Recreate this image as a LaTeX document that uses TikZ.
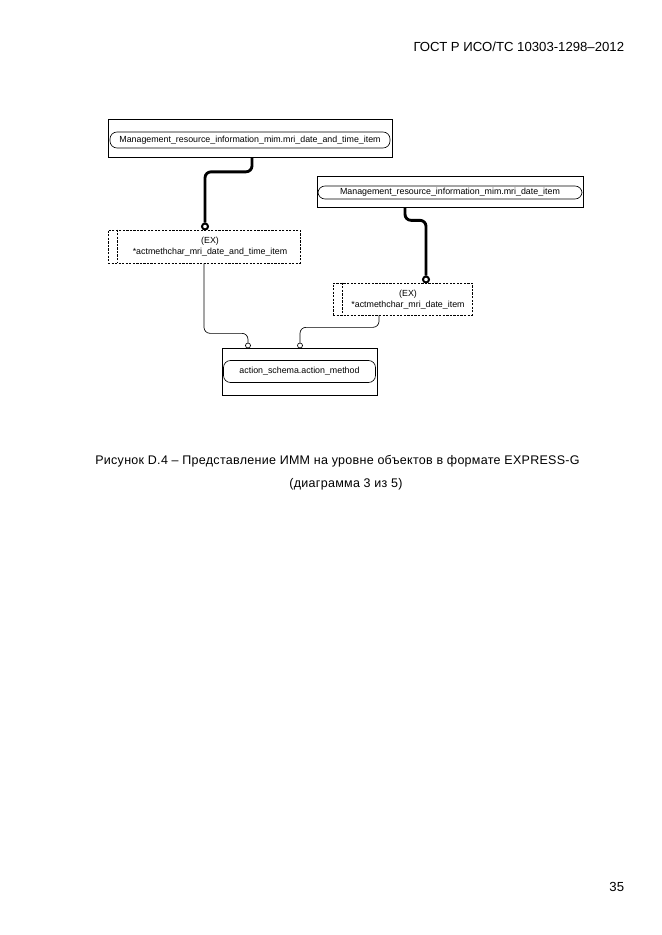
\documentclass[tikz,border=0pt]{standalone}
\usepackage{fontspec}
\setmainfont{Liberation Sans}
\newlength{\pxu}
\setlength{\pxu}{0.3177mm}
\tikzset{
  entbox/.style={draw, line width=0.6pt, inner sep=0pt},
  pill/.style={draw, line width=0.6pt, rounded corners=7\pxu, inner sep=0pt, font=\fontsize{8}{9}\selectfont},
  exbox/.style={draw, dash pattern=on 2pt off 1.2pt, line width=0.6pt, inner sep=0pt},
  extext/.style={align=center, font=\fontsize{8}{10.5}\selectfont, inner sep=0pt},
  bigring/.style={circle, draw, line width=1.8pt, inner sep=0pt, minimum size=6\pxu},
  smallring/.style={circle, draw, line width=0.6pt, inner sep=0pt, minimum size=5\pxu},
  thickconn/.style={line width=2.6pt, rounded corners=6\pxu},
  thinconn/.style={line width=0.6pt, rounded corners=6\pxu},
  captext/.style={font=\fontsize{11.3}{13}\selectfont\addfontfeature{LetterSpace=2.3}},
}
\begin{document}
\begin{tikzpicture}[x=0.3177mm, y=-0.3177mm]
    \useasboundingbox (0,0) rectangle (661,935);

    % 页眉
    \node[anchor=east, font=\fontsize{11.9}{14}\selectfont] (hdr) at (628,47) {ГОСТ Р ИСО/ТС 10303-1298–2012};

    % 实体框
    \node[entbox, minimum width=284\pxu, minimum height=38\pxu] (e1) at (250,138.5) {};
    \node[pill, minimum width=280\pxu, minimum height=16\pxu] (p1) at (250,140) {Management\_resource\_information\_mim.mri\_date\_and\_time\_item};
    \node[entbox, minimum width=266\pxu, minimum height=31\pxu] (e2) at (450,191.5) {};
    \node[pill, minimum width=264\pxu, minimum height=13\pxu] (p2) at (450,192.5) {Management\_resource\_information\_mim.mri\_date\_item};
    \node[entbox, minimum width=155\pxu, minimum height=47\pxu] (e3) at (299.5,371.5) {};
    \node[pill, minimum width=152\pxu, minimum height=22\pxu] (p3) at (299.5,371.5) {action\_schema.action\_method};

    % 选择类型框
    \node[exbox, minimum width=192\pxu, minimum height=33\pxu] (ex1) at (204,246.5) {};
    \draw[exbox] ([xshift=10\pxu]ex1.north west) -- ([xshift=10\pxu]ex1.south west);
    \node[extext] (t1) at (210,246.5) {(EX)\\*actmethchar\_mri\_date\_and\_time\_item};
    \node[exbox, minimum width=139\pxu, minimum height=32\pxu] (ex2) at (402.5,299) {};
    \draw[exbox] ([xshift=10\pxu]ex2.north west) -- ([xshift=10\pxu]ex2.south west);
    \node[extext] (t2) at (408,299.5) {(EX)\\*actmethchar\_mri\_date\_item};

    % 连线
    \node[bigring] (o1) at (205,226.5) {};
    \node[bigring] (o2) at (426,279.5) {};
    \node[smallring] (s1) at (248,345.5) {};
    \node[smallring] (s2) at (300,345.5) {};
    \draw[thickconn] ([xshift=2\pxu]e1.south) -- ++(0,14) -| (o1.north);
    \draw[thickconn] ([xshift=-45\pxu]e2.south) -- ++(0,13) -| (o2.north);
    \draw[thinconn] (ex1.south) -- ++(0,70) -| (s1.north);
    \draw[thinconn] ([xshift=-23.5\pxu]ex2.south) -- ++(0,12) -| (s2.north);

    % 图题
    \node[captext] (cap1) at (337.5,461) {Рисунок D.4 – Представление ИММ на уровне объектов в формате EXPRESS-G};
    \node[captext] (cap2) at (346,484) {(диаграмма 3 из 5)};
    \node[anchor=east, font=\fontsize{11.9}{14}\selectfont] (pgno) at (628,887) {35};
\end{tikzpicture}
\end{document}
